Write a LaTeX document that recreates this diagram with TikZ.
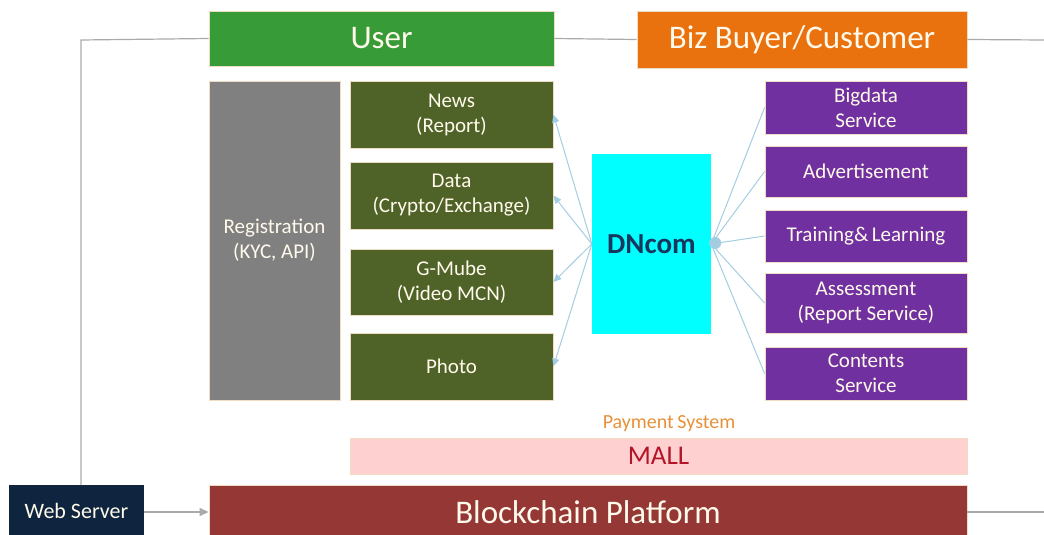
\documentclass[tikz,border=0pt]{standalone}
\usepackage{fontspec}
\setmainfont{Carlito}
\usetikzlibrary{arrows.meta}
\definecolor{cUser}{RGB}{55,155,55}
\definecolor{cBiz}{RGB}{234,114,14}
\definecolor{cReg}{RGB}{128,128,128}
\definecolor{cOlive}{RGB}{79,98,40}
\definecolor{cCyan}{RGB}{0,255,255}
\definecolor{cDN}{RGB}{23,55,94}
\definecolor{cPurple}{RGB}{112,48,160}
\definecolor{cPink}{RGB}{255,208,208}
\definecolor{cMall}{RGB}{180,20,40}
\definecolor{cPay}{RGB}{230,145,56}
\definecolor{cBC}{RGB}{149,55,53}
\definecolor{cWeb}{RGB}{15,36,62}
\definecolor{cEdge}{RGB}{240,220,195}
\definecolor{cLine}{RGB}{170,170,170}
\definecolor{cFan}{RGB}{165,205,225}
\definecolor{cTxt}{RGB}{255,250,235}
\tikzset{
  box/.style={rectangle, draw=cEdge, line width=0.8pt, inner sep=0pt, align=center, text=cTxt},
  big/.style={font=\fontsize{33}{36}\selectfont},
  mid/.style={font=\fontsize{21}{25}\selectfont},
  conn/.style={draw=cLine, line width=1.2pt},
  fan/.style={draw=cFan, line width=1pt},
}
\begin{document}
\begin{tikzpicture}[x=1pt,y=-1pt]
\useasboundingbox (0,0) rectangle (1044,535);
% top
\node[box, big, fill=cUser, minimum width=345pt, minimum height=55pt] (user) at (381.5,38.5) {User};
\node[box, big, fill=cBiz, minimum width=330pt, minimum height=57pt] (biz) at (802,39.5) {Biz Buyer/Customer};
% left column
\node[box, mid, fill=cReg, minimum width=131pt, minimum height=319pt] (reg) at (274.5,240.5) {Registration\\(KYC, API)};
\node[box, mid, fill=cOlive, minimum width=203pt, minimum height=67pt] (news) at (451.5,114.5) {News\\(Report)};
\node[box, mid, fill=cOlive, minimum width=203pt, minimum height=67pt] (data) at (451.5,195.5) {Data\\(Crypto/Exchange)};
\node[box, mid, fill=cOlive, minimum width=203pt, minimum height=66pt] (gmube) at (451.5,282) {G-Mube\\(Video MCN)};
\node[box, mid, fill=cOlive, minimum width=203pt, minimum height=67pt] (photo) at (451.5,366.5) {Photo};
% centre
\node[rectangle, fill=cCyan, inner sep=0pt, minimum width=119pt, minimum height=180pt, text=cDN, font=\fontsize{29}{32}\selectfont\bfseries] (dn) at (651.5,244) {DNcom};
% right column
\node[box, mid, fill=cPurple, minimum width=202pt, minimum height=53pt] (bigdata) at (866,107.5) {Bigdata\\Service};
\node[box, mid, fill=cPurple, minimum width=202pt, minimum height=51pt] (adv) at (866,171.5) {Advertisement};
\node[box, mid, fill=cPurple, minimum width=202pt, minimum height=52pt] (train) at (866,236) {Training\&\,Learning};
\node[box, mid, fill=cPurple, minimum width=202pt, minimum height=60pt] (assess) at (866,303) {Assessment\\(Report Service)};
\node[box, mid, fill=cPurple, minimum width=202pt, minimum height=53pt] (contents) at (866,373.5) {Contents\\Service};
% bottom
\node[text=cPay, font=\fontsize{20}{22}\selectfont, inner sep=0pt] (pay) at (669,424) {Payment\kern-1pt\ System};
\node[rectangle, draw=cEdge, line width=0.6pt, fill=cPink, inner sep=0pt, minimum width=617pt, minimum height=36pt, text=cMall, font=\fontsize{27}{30}\selectfont] (mall) at (658.5,456) {MALL};
\node[box, big, fill=cBC, minimum width=758pt, minimum height=56pt, anchor=north] (bc) at (588,485) {\raisebox{3pt}{Blockchain Platform}};
\node[rectangle, fill=cWeb, inner sep=0pt, minimum width=135pt, minimum height=54pt, anchor=north, text=cTxt, font=\fontsize{22}{24}\selectfont] (web) at (76.5,485) {\raisebox{2pt}{Web Server}};
% connectors
\coordinate (corner) at (81,40);
\coordinate (rt) at (1044,40);
\coordinate (rb) at (1044,512);
\draw[conn] (web.north -| corner) -- (corner) -- (user.west);
\draw[conn, -{Triangle[length=9pt,width=8pt]}] (web.east |- 0,512) -- (bc.west |- 0,512);
\draw[conn] (user.east) -- (biz.west);
\draw[conn] (biz.east) -- (rt);
\draw[conn] (bc.east |- rb) -- (rb);
% left fan
\foreach \t in {news,data,gmube,photo}
  \draw[fan, -{Triangle[length=8pt,width=7pt]}] (dn.west) -- (\t.east);
% right fan
\foreach \t in {bigdata,adv,train,assess,contents}
  \draw[fan] (dn.east) -- (\t.west);
\fill[cFan] (dn.east) ++(4,-1) circle (6pt);
\end{tikzpicture}
\end{document}
